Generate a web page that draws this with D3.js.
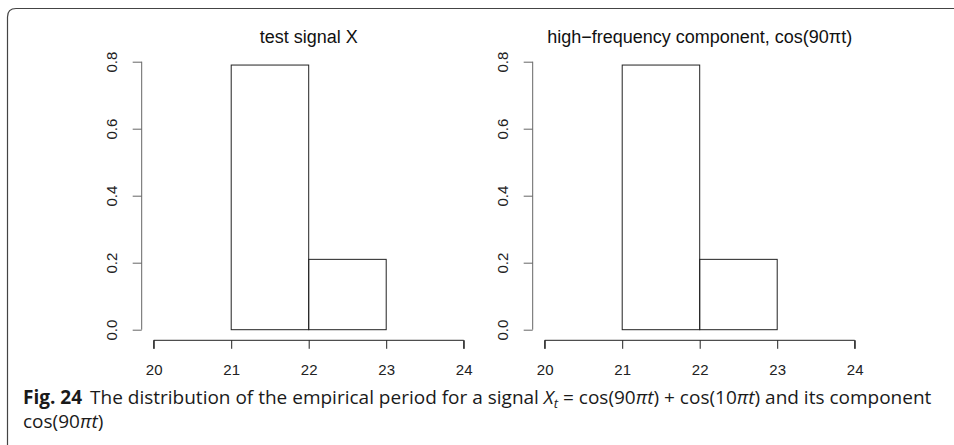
<!DOCTYPE html>
<html>
  <head>
    <title>Empirical period distribution</title>
    <script src="https://d3js.org/d3.v7.min.js"></script>
    <style>
      body { margin: 0; background: #fff; }
      .axis text { font-family: "Liberation Sans", Arial, sans-serif; font-size: 15px; fill: #222; }
      .title { font-family: "Liberation Sans", Arial, sans-serif; font-size: 18px; fill: #111; }
      .caption { font-family: "Open Sans", "Noto Sans", sans-serif; font-size: 19px; fill: #1a1a1a; }
    </style>
  </head>
  <body>
    <svg width="954" height="445"></svg>
    <script>
      // histogram bins (period) and densities, same for both panels
      const binEdges = [20, 21, 22, 23, 24];
      const densityX = [0, 0.79, 0.21, 0];
      const densityHF = [0, 0.79, 0.21, 0];
      const xTicks = [20, 21, 22, 23, 24];
      const yTicks = [0, 0.2, 0.4, 0.6, 0.8];
      const panelTitles = ["test signal X", "high\u2212frequency component, cos(90\u03c0t)"];

      const svg = d3.select("svg");

      // journal frame: top and left edges with a rounded corner
      svg.append("path")
        .attr("d", "M7.5,445 L7.5,17 Q7.5,8.5 16,8.5 L954,8.5")
        .attr("fill", "none")
        .attr("stroke", "#444")
        .attr("stroke-width", 1.2);

      function histPanel(g, values, title) {
        const x = d3.scaleLinear().domain([20, 24]).range([153.7, 463.7]);
        const y = d3.scaleLinear().domain([0, 0.8]).range([329.7, 61.7]);

        const bins = values.map((v, i) => ({x0: binEdges[i], x1: binEdges[i + 1], v: v}));
        g.selectAll(".bar")
          .data(bins)
          .enter().append("rect")
            .attr("class", "bar")
            .attr("x", d => x(d.x0))
            .attr("y", d => y(d.v))
            .attr("width", d => x(d.x1) - x(d.x0))
            .attr("height", d => y(0) - y(d.v))
            .attr("fill", "none")
            .attr("stroke", d => d.v > 0 ? "#222" : "#666")
            .attr("stroke-width", 1);

        const xAxis = g.append("g")
          .attr("class", "axis")
          .attr("transform", "translate(0,340.3)")
          .call(d3.axisBottom(x).tickValues(xTicks).tickSize(8.5).tickPadding(16).tickFormat(d3.format("d")));
        xAxis.select(".domain").attr("d", `M${x(20)},8.5V0H${x(24)}V8.5`).attr("stroke", "#222");
        xAxis.selectAll(".tick line").attr("stroke", "#222");
        xAxis.selectAll(".tick text").attr("dy", null).attr("y", 35);

        const yAxis = g.append("g")
          .attr("class", "axis")
          .attr("transform", "translate(141.7,0)")
          .call(d3.axisLeft(y).tickValues(yTicks).tickSize(9).tickFormat(d3.format(".1f")));
        yAxis.select(".domain").attr("d", `M0,${y(0)}V${y(0.8)}`).attr("stroke", "#666");
        yAxis.selectAll(".tick line").attr("stroke", "#666");
        yAxis.selectAll(".tick text")
          .attr("x", null)
          .attr("text-anchor", "middle")
          .attr("transform", "translate(-25,0) rotate(-90)")
          .attr("dy", "0");

        g.append("text")
          .attr("class", "title")
          .attr("x", (x(20) + x(24)) / 2)
          .attr("y", 43)
          .attr("text-anchor", "middle")
          .text(title);
      }

      histPanel(svg.append("g"), densityX, panelTitles[0]);
      histPanel(svg.append("g").attr("transform", "translate(391,0)"), densityHF, panelTitles[1]);

      // caption
      const cap1 = svg.append("text").attr("class", "caption").attr("x", 23).attr("y", 404);
      cap1.append("tspan").attr("font-weight", "bold").text("Fig. 24");
      cap1.append("tspan").attr("dx", 8).text("The distribution of the empirical period for a signal ");
      cap1.append("tspan").attr("font-style", "italic").text("X");
      cap1.append("tspan").attr("font-style", "italic").attr("font-size", "13px").attr("dy", 4).text("t");
      cap1.append("tspan").attr("dy", -4).text(" = cos(90");
      cap1.append("tspan").attr("font-style", "italic").text("\u03c0t");
      cap1.append("tspan").text(") + cos(10");
      cap1.append("tspan").attr("font-style", "italic").text("\u03c0t");
      cap1.append("tspan").text(") and its component");

      const cap2 = svg.append("text").attr("class", "caption").attr("x", 23).attr("y", 428);
      cap2.append("tspan").text("cos(90");
      cap2.append("tspan").attr("font-style", "italic").text("\u03c0t");
      cap2.append("tspan").text(")");
    </script>
  </body>
</html>
